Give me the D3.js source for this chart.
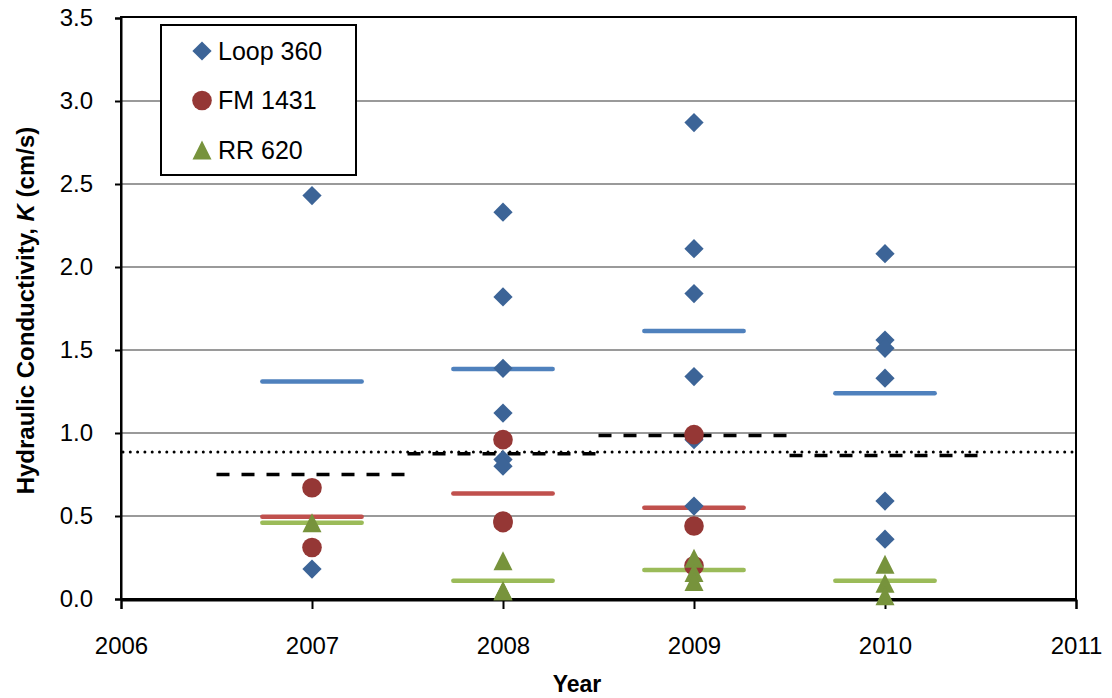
<!DOCTYPE html>
<html>
<head>
<meta charset="utf-8">
<script src="https://cdn.jsdelivr.net/npm/d3@7"></script>
<style>
  html, body { margin: 0; padding: 0; background: #fff; }
  svg { display: block; font-family: "Liberation Sans", Arial, sans-serif; }
</style>
</head>
<body>
<svg id="chart" width="1112" height="698"></svg>
<script>
// Hydraulic conductivity measurements by year and site
const years = [2007, 2008, 2009, 2010];
const xTicks = [2006, 2007, 2008, 2009, 2010, 2011];
const yTicks = [0, 0.5, 1.0, 1.5, 2.0, 2.5, 3.0, 3.5];

// individual measurements (cm/s), one list per year
const loop360 = [[2.43, 0.18], [2.33, 1.82, 1.39, 1.12, 0.84, 0.80], [2.87, 2.11, 1.84, 1.34, 0.96, 0.56], [2.08, 1.56, 1.51, 1.33, 0.59, 0.36]];
const fm1431 = [[0.67, 0.31], [0.96, 0.47, 0.46], [0.99, 0.44, 0.20], []];
const rr620 = [[0.46], [0.23, 0.05, 0.05], [0.245, 0.16, 0.105], [0.21, 0.095, 0.02]];

// yearly averages per site and for all sites
const loopMean = [1.31, 1.385, 1.615, 1.24];
const fmMean = [0.495, 0.635, 0.55, null];
const rrMean = [0.46, 0.11, 0.175, 0.11];
const allMean = [0.75, 0.875, 0.985, 0.865];
const overallMean = 0.885;

const seriesNames = ["Loop 360", "FM 1431", "RR 620"];

const svg = d3.select("#chart");
const m = { left: 121, right: 1076, top: 18, bottom: 599 };

const x = d3.scaleLinear().domain([2006, 2011]).range([m.left, m.right]);
const y = d3.scaleLinear().domain([0, 3.5]).range([m.bottom, m.top]);

const col = {
  loopLine: "#4F81BD", fmLine: "#C0504D", rrLine: "#9BBB59",
  loopMark: "#3C6497", fmMark: "#953735", rrMark: "#77933C"
};

// horizontal gridlines
svg.append("g")
  .selectAll("line")
  .data(yTicks.filter(d => d > 0 && d < 3.5))
  .join("line")
  .attr("x1", m.left).attr("x2", m.right)
  .attr("y1", d => y(d)).attr("y2", d => y(d))
  .attr("stroke", "#9a9a9a").attr("stroke-width", 2);

// plot frame
svg.append("rect")
  .attr("x", m.left).attr("y", m.top - 1)
  .attr("width", m.right - m.left).attr("height", m.bottom - m.top + 1)
  .attr("fill", "none").attr("stroke", "#000").attr("stroke-width", 2);

// axes
const xAxis = d3.axisBottom(x).tickValues(xTicks).tickFormat(d3.format("d")).tickSize(9).tickPadding(28);
const gx = svg.append("g").attr("transform", `translate(0,${m.bottom + 1})`).call(xAxis);
gx.select(".domain").attr("stroke", "#000").attr("stroke-width", 2);
gx.selectAll(".tick line").attr("stroke", "#000").attr("stroke-width", 2);
gx.selectAll(".tick text").attr("font-size", 24).attr("fill", "#000");

const yAxis = d3.axisLeft(y).tickValues(yTicks).tickFormat(d3.format(".1f")).tickSize(6).tickPadding(22);
const gy = svg.append("g").attr("transform", `translate(${m.left},0)`).call(yAxis);
gy.select(".domain").attr("stroke", "#000").attr("stroke-width", 2);
gy.selectAll(".tick line").attr("stroke", "#000").attr("stroke-width", 2);
gy.selectAll(".tick text").attr("font-size", 24).attr("fill", "#000");

// axis titles
svg.append("text")
  .attr("x", 577).attr("y", 692)
  .attr("text-anchor", "middle").attr("font-size", 23).attr("font-weight", "bold")
  .text("Year");

const yt = svg.append("text")
  .attr("transform", `translate(34,${(m.top + m.bottom) / 2 + 2}) rotate(-90)`)
  .attr("text-anchor", "middle").attr("font-size", 24).attr("font-weight", "bold");
yt.append("tspan").text("Hydraulic Conductivity, ");
yt.append("tspan").attr("font-style", "italic").text("K");
yt.append("tspan").text(" (cm/s)");

// average lines
const half = 0.26;
function meanLines(vals, color, width) {
  svg.append("g").selectAll("line")
    .data(years.map((yr, i) => ({ yr, v: vals[i] })).filter(d => d.v != null))
    .join("line")
    .attr("x1", d => x(d.yr - half)).attr("x2", d => x(d.yr + half))
    .attr("y1", d => y(d.v)).attr("y2", d => y(d.v))
    .attr("stroke", color).attr("stroke-width", width).attr("stroke-linecap", "round");
}
meanLines(loopMean, col.loopLine, 4.5);
meanLines(rrMean, col.rrLine, 4.5);
meanLines(fmMean, col.fmLine, 4.5);

// all-site yearly average (dashed)
svg.append("g").selectAll("line")
  .data(years.map((yr, i) => ({ yr, v: allMean[i] })))
  .join("line")
  .attr("x1", d => x(d.yr - 0.5)).attr("x2", d => x(d.yr + 0.5))
  .attr("y1", d => y(d.v)).attr("y2", d => y(d.v))
  .attr("stroke", "#000").attr("stroke-width", 3.5)
  .attr("stroke-dasharray", "13 12");

// overall average (dotted)
svg.append("line")
  .attr("x1", m.left + 2).attr("x2", m.right - 2)
  .attr("y1", y(overallMean)).attr("y2", y(overallMean))
  .attr("stroke", "#000").attr("stroke-width", 3)
  .attr("stroke-linecap", "round").attr("stroke-dasharray", "0 7.3");

// markers
const flat = arr => arr.flatMap((vs, i) => vs.map(v => ({ yr: years[i], v })));
const sym = (type, size) => d3.symbol().type(type).size(size)();

svg.append("g").selectAll("path")
  .data(flat(loop360)).join("path")
  .attr("transform", d => `translate(${x(d.yr)},${y(d.v)}) rotate(45)`)
  .attr("d", sym(d3.symbolSquare, 185))
  .attr("fill", col.loopMark);

svg.append("g").selectAll("circle")
  .data(flat(fm1431)).join("circle")
  .attr("cx", d => x(d.yr)).attr("cy", d => y(d.v)).attr("r", 9.8)
  .attr("fill", col.fmMark);

const tri = d3.path();
tri.moveTo(0, -9.5); tri.lineTo(9.5, 9.5); tri.lineTo(-9.5, 9.5); tri.closePath();
svg.append("g").selectAll("path")
  .data(flat(rr620)).join("path")
  .attr("transform", d => `translate(${x(d.yr)},${y(d.v)})`)
  .attr("d", tri.toString())
  .attr("fill", col.rrMark);

// legend
const lg = svg.append("g");
lg.append("rect")
  .attr("x", 161).attr("y", 25).attr("width", 195).attr("height", 150)
  .attr("fill", "#fff").attr("stroke", "#000").attr("stroke-width", 2);
const legendRows = [
  { name: seriesNames[0], kind: "diamond", color: col.loopMark },
  { name: seriesNames[1], kind: "circle", color: col.fmMark },
  { name: seriesNames[2], kind: "triangle", color: col.rrMark }
];
legendRows.forEach((r, i) => {
  const cy = 51 + i * 49.5;
  const g = lg.append("g").attr("transform", `translate(202,${cy})`);
  if (r.kind === "diamond") {
    g.append("path").attr("transform", "rotate(45)").attr("d", sym(d3.symbolSquare, 185)).attr("fill", r.color);
  } else if (r.kind === "circle") {
    g.append("circle").attr("r", 9.8).attr("fill", r.color);
  } else {
    g.append("path").attr("d", tri.toString()).attr("fill", r.color);
  }
  lg.append("text")
    .attr("x", 218).attr("y", cy + 8.5)
    .attr("font-size", 25).attr("fill", "#000")
    .text(r.name);
});
</script>
</body>
</html>
